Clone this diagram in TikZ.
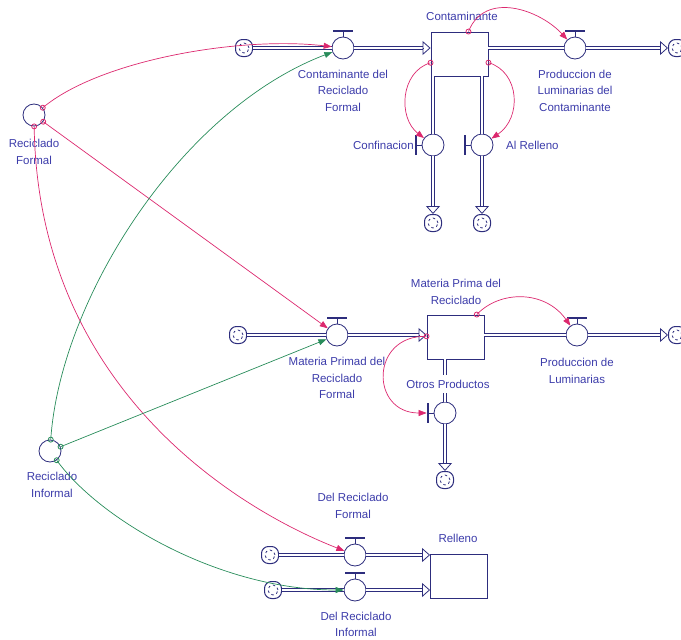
\documentclass[tikz,border=0pt]{standalone}
\usepackage{fontspec}
\setmainfont{Liberation Sans}
\usetikzlibrary{arrows.meta,calc}

\definecolor{pipeblue}{RGB}{45,45,125}
\definecolor{labelblue}{RGB}{60,60,170}
\definecolor{linkred}{RGB}{220,40,110}
\definecolor{linkgreen}{RGB}{40,140,90}

\tikzset{
  valve/.style={circle, draw=pipeblue, fill=white, line width=0.8pt, minimum size=22pt, inner sep=0pt},
  conv/.style={circle, draw=pipeblue, line width=0.8pt, minimum size=22pt, inner sep=0pt},
  stock/.style={rectangle, draw=pipeblue, fill=white, line width=0.9pt, minimum width=57pt, minimum height=44pt, inner sep=0pt},
  cloud/.style={rectangle, rounded corners=7pt, draw=pipeblue, line width=1pt, minimum size=17pt, inner sep=0pt,
    path picture={\draw[pipeblue, line width=0.8pt, dash pattern=on 2.5pt off 2.8pt]
      (path picture bounding box.center) circle (5pt);}},
  lbl/.style={text=labelblue, font=\fontsize{11.5}{16.7}\selectfont, align=center, inner sep=0pt},
  pipe/.style={draw=pipeblue, line width=0.9pt, double=white, double distance=2.6pt},
  ptip/.style={draw=pipeblue, line width=0.8pt, -{Triangle[open, length=8pt, width=14pt]}},
  handle/.style={draw=pipeblue, line width=0.9pt},
  handlebar/.style={draw=pipeblue, line width=2.4pt},
  link/.style={line width=0.7pt, -{Triangle[length=8pt, width=6pt]}},
  sdot/.style={circle, draw, line width=0.8pt, minimum size=5pt, inner sep=0pt},
}

\begin{document}
\begin{tikzpicture}[x=1pt, y=-1pt]
\useasboundingbox (0,0) rectangle (681,640);

% ---- converters
\node[conv] (rf) at (34,115) {};
\node[lbl, anchor=north] (lrf) at (34,139) {Reciclado\\Formal};
\node[conv] (ri) at (50,451) {};
\node[lbl, anchor=north] (lri) at (52,472) {Reciclado\\Informal};

% ---- stocks
\node[stock] (s1) at (459.5,54) {};
\node[lbl, anchor=base] (ls1) at (462,20) {Contaminante};
\node[stock] (s2) at (455.5,337) {};
\node[lbl, anchor=north] (ls2) at (456,279) {Materia Prima del\\Reciclado};
\node[stock] (s3) at (459,576) {};
\node[lbl, anchor=base] (ls3) at (458,542) {Relleno};

% ---- clouds
\node[cloud] (c1) at (244,48) {};
\node[cloud] (c2) at (677,48) {};
\node[cloud] (c3) at (433,223) {};
\node[cloud] (c4) at (482,223) {};
\node[cloud] (c5) at (238,335) {};
\node[cloud] (c6) at (677,335) {};
\node[cloud] (c7) at (445,480) {};
\node[cloud] (c8) at (270,555) {};
\node[cloud] (c9) at (273,590) {};

% ---- valves and their labels
\node[valve] (v1) at (343,48) {};
\node[lbl, anchor=north] (lv1) at (343,69.5) {Contaminante del\\Reciclado\\Formal};
\node[valve] (v3) at (575,48) {};
\node[lbl, anchor=north] (lv3) at (575,69.5) {Produccion de\\Luminarias del\\Contaminante};
\node[valve] (v4) at (433,145) {};
\node[lbl, anchor=base east] (lv4) at (414,149) {Confinacion};
\node[valve] (v5) at (482,145) {};
\node[lbl, anchor=base west] (lv5) at (506,149) {Al Relleno};
\node[valve] (v2) at (337,335) {};
\node[lbl, anchor=north] (lv2) at (337,357) {Materia Primad del\\Reciclado\\Formal};
\node[valve] (v6) at (577,335) {};
\node[lbl, anchor=north] (lv6) at (577,358) {Produccion de\\Luminarias};
\node[valve] (v7) at (445,413) {};
\node[lbl, anchor=base, outer ysep=5pt] (lv7) at (448,388) {Otros Productos};
\node[valve] (v8) at (355,555) {};
\node[lbl, anchor=north] (lv8) at (353,493) {Del Reciclado\\Formal};
\node[valve] (v9) at (355,590) {};
\node[lbl, anchor=north] (lv9) at (356,611.5) {Del Reciclado\\Informal};

% ---- valve handles (above for horizontal flows, left for vertical flows)
\foreach \v in {v1,v2,v3,v6,v8,v9} {
  \draw[handle] (\v.north) -- ++(0,-4.5);
  \draw[handlebar] ($(\v.north)+(-10,-5.5)$) -- ($(\v.north)+(10,-5.5)$);
}
\foreach \v in {v4,v5,v7} {
  \draw[handle] (\v.west) -- ++(-4.5,0);
  \draw[handlebar] ($(\v.west)+(-5.5,-10)$) -- ($(\v.west)+(-5.5,10)$);
}

% ---- pipes: contaminant chain
\draw[pipe] (c1) -- (v1);
\draw[pipe, shorten >=8pt] (v1) -- (v1 -| s1.west);
\draw[ptip] ($(v1 -| s1.west)+(-8,0)$) -- (v1 -| s1.west);
\draw[pipe] (v3 -| s1.east) -- (v3);
\draw[pipe, shorten >=8pt] (v3) -- (c2);
\draw[ptip] ($(c2.west)+(-8,0)$) -- (c2.west);
\draw[pipe] (v4 |- s1.south) -- (v4);
\draw[pipe, shorten >=8pt] (v4) -- (c3);
\draw[ptip] ($(c3.north)+(0,-8)$) -- (c3.north);
\draw[pipe] (v5 |- s1.south) -- (v5);
\draw[pipe, shorten >=8pt] (v5) -- (c4);
\draw[ptip] ($(c4.north)+(0,-8)$) -- (c4.north);

% ---- pipes: raw material chain
\draw[pipe] (c5) -- (v2);
\draw[pipe, shorten >=8pt] (v2) -- (v2 -| s2.west);
\draw[ptip] ($(v2 -| s2.west)+(-8,0)$) -- (v2 -| s2.west);
\draw[pipe] (v6 -| s2.east) -- (v6);
\draw[pipe, shorten >=8pt] (v6) -- (c6);
\draw[ptip] ($(c6.west)+(-8,0)$) -- (c6.west);
\draw[pipe] (v7 |- s2.south) -- (v7 |- lv7.north);
\draw[pipe] (v7 |- lv7.south) -- (v7);
\draw[pipe, shorten >=8pt] (v7) -- (c7);
\draw[ptip] ($(c7.north)+(0,-8)$) -- (c7.north);

% ---- pipes: landfill
\draw[pipe] (c8) -- (v8);
\draw[pipe, shorten >=8pt] (v8) -- (v8 -| s3.west);
\draw[ptip] ($(v8 -| s3.west)+(-8,0)$) -- (v8 -| s3.west);
\draw[pipe] (c9) -- (v9);
\draw[pipe, shorten >=8pt] (v9) -- (v9 -| s3.west);
\draw[ptip] ($(v9 -| s3.west)+(-8,0)$) -- (v9 -| s3.west);

% ---- information links from Reciclado Formal
\draw[link, linkred] (rf) .. controls (100,60) and (240,36) .. (v1) node[sdot, pos=0] (d1) {};
\draw[link, linkred] (rf) -- (v2) node[sdot, pos=0] (d2) {};
\draw[link, linkred] (rf) .. controls (38,390) and (240,510) .. (v8) node[sdot, pos=0] (d3) {};

% ---- information links from Reciclado Informal
\draw[link, linkgreen] (ri) .. controls (60,300) and (180,110) .. (v1) node[sdot, pos=0] (d4) {};
\draw[link, linkgreen] (ri) -- (v2) node[sdot, pos=0] (d5) {};
\draw[link, linkgreen] (ri) .. controls (100,520) and (220,590) .. (v9) node[sdot, pos=0] (d6) {};

% ---- information links from the stocks
\draw[link, linkred] (s1) .. controls (485,-10) and (540,10) .. (v3) node[sdot, pos=0] (d7) {};
\draw[link, linkred] (s1) .. controls (520,72) and (522,118) .. (v5) node[sdot, pos=0] (d8) {};
\draw[link, linkred] (s1) .. controls (400,72) and (398,118) .. (v4) node[sdot, pos=0] (d9) {};
\draw[link, linkred] (s2) .. controls (500,290) and (545,290) .. (v6) node[sdot, pos=0] (d10) {};
\draw[link, linkred, shorten >=7pt] (s2) .. controls (370,335) and (370,413) .. (v7) node[sdot, pos=0] (d11) {};
\end{tikzpicture}
\end{document}
